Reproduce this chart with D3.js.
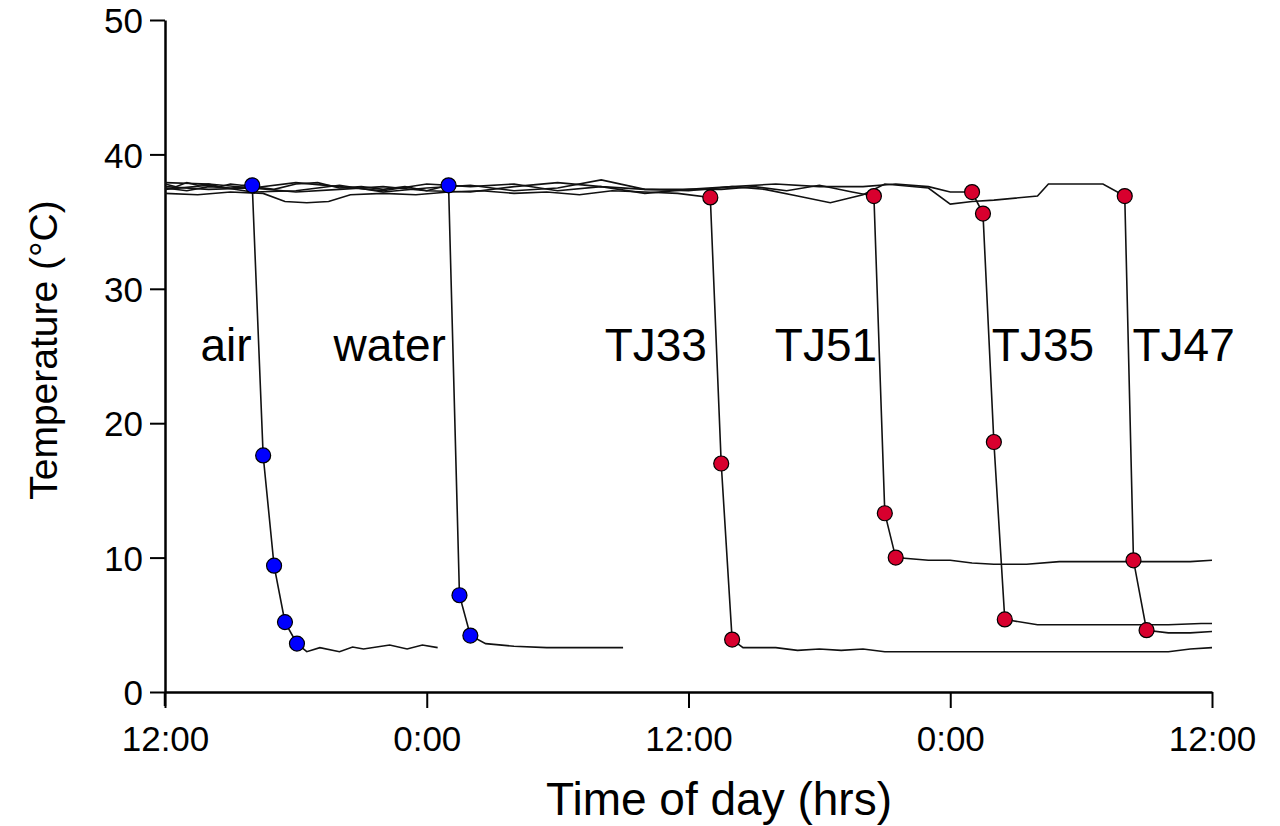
<!DOCTYPE html>
<html>
  <head>
    <meta charset="utf-8">
    <title>Temperature by time of day</title>
    <script src="https://cdn.jsdelivr.net/npm/d3@7"></script>
    <style>
      body { margin: 0; background: #fff; }
      svg text { font-family: "Liberation Sans", Arial, sans-serif; fill: #000; }
    </style>
  </head>
  <body>
    <svg id="chart"></svg>
    <script>
// hours after 12:00 on day 1, temperature in degrees C
const airHours = [0, 0.5, 1, 1.5, 2, 2.5, 3, 3.5, 4, 4.5, 5, 5.5, 6.05, 6.5, 7.1, 8.0, 8.6, 9.1, 10.3, 11.1, 11.8, 12.5];
const airTemps = [37.8, 37.6, 37.9, 37.7, 37.8, 37.6, 37.8, 37.7, 37.7, 17.6, 9.4, 5.2, 3.6, 3.0, 3.3, 3.0, 3.35, 3.2, 3.5, 3.2, 3.5, 3.3];
const airDots = [4, 4.5, 5, 5.5, 6.05];

const waterHours = [0, 1, 2, 3, 4, 5, 6, 7, 8, 9, 10, 11, 12, 12.5, 13, 13.5, 14, 14.7, 16, 17.5, 19, 21];
const waterTemps = [37.5, 37.3, 37.6, 37.5, 37.6, 37.4, 37.8, 37.9, 37.5, 37.6, 37.4, 37.6, 37.3, 37.5, 37.7, 7.2, 4.2, 3.6, 3.4, 3.3, 3.3, 3.3];
const waterDots = [13, 13.5, 14];

const tj33Hours = [0, 1.5, 3, 4.5, 5.5, 6.5, 7.5, 8.5, 10, 11.5, 13, 14.5, 16, 17.5, 19, 20.5, 22, 23.5, 25, 25.5, 26, 26.5, 28, 29, 30, 31, 32, 33, 35, 37, 40, 43, 46, 47, 48];
const tj33Temps = [37.1, 37.0, 37.2, 37.1, 36.5, 36.4, 36.5, 37.0, 37.1, 37.0, 37.2, 37.3, 37.1, 37.2, 37.0, 37.3, 37.2, 37.1, 36.8, 17.0, 3.9, 3.3, 3.3, 3.1, 3.2, 3.1, 3.2, 3.0, 3.0, 3.0, 3.0, 3.0, 3.0, 3.2, 3.3];
const tj33Dots = [25, 25.5, 26];

const tj51Hours = [0, 2, 4, 6, 8, 10, 12, 14, 16, 18, 20, 22, 24, 25.5, 27, 28.5, 30, 31.5, 32.5, 33, 33.5, 35, 36, 37, 38, 39.5, 41, 43, 45, 47, 48];
const tj51Temps = [37.6, 37.4, 37.5, 37.2, 37.4, 37.6, 37.3, 37.2, 37.6, 37.9, 37.6, 37.4, 37.4, 37.4, 37.6, 37.3, 37.7, 37.2, 36.9, 13.3, 10.0, 9.8, 9.8, 9.6, 9.5, 9.5, 9.7, 9.7, 9.7, 9.7, 9.8];
const tj51Dots = [32.5, 33, 33.5];

const tj35Hours = [0, 2, 4, 6, 8, 10, 12, 14, 16, 18, 20, 22, 24, 26, 28, 30, 32, 33.5, 35, 36, 37, 37.5, 38, 38.5, 40, 42, 44, 46, 47.5, 48];
const tj35Temps = [37.4, 37.7, 37.2, 37.3, 37.7, 37.2, 37.5, 37.7, 37.3, 37.5, 38.1, 37.4, 37.3, 37.6, 37.8, 37.6, 37.6, 37.8, 37.6, 37.2, 37.2, 35.6, 18.6, 5.4, 5.0, 5.0, 5.0, 5.0, 5.1, 5.1];
const tj35Dots = [37, 37.5, 38, 38.5];

const tj47Hours = [0, 2, 4, 6, 8, 10, 12, 14, 16, 18, 20, 22, 24, 26, 27.5, 29, 30.5, 32, 33, 35, 36, 37, 38, 40, 40.5, 42, 43, 44, 44.4, 45, 46, 47, 48];
const tj47Temps = [37.9, 37.8, 37.5, 37.9, 37.6, 37.3, 37.8, 37.6, 37.8, 37.3, 37.6, 37.1, 37.4, 37.6, 37.4, 36.9, 36.4, 37.0, 37.8, 37.5, 36.3, 36.5, 36.6, 36.9, 37.8, 37.8, 37.8, 36.9, 9.8, 4.6, 4.4, 4.4, 4.5];
const tj47Dots = [44, 44.4, 45];

const yTicks = [0, 10, 20, 30, 40, 50];
const xTicks = [0, 12, 24, 36, 48];
const xTickLabels = ['12:00', '0:00', '12:00', '0:00', '12:00'];

const series = [
  {name: 'air', group: 'control', hours: airHours, temps: airTemps, dots: airDots},
  {name: 'water', group: 'control', hours: waterHours, temps: waterTemps, dots: waterDots},
  {name: 'TJ33', group: 'sample', hours: tj33Hours, temps: tj33Temps, dots: tj33Dots},
  {name: 'TJ51', group: 'sample', hours: tj51Hours, temps: tj51Temps, dots: tj51Dots},
  {name: 'TJ35', group: 'sample', hours: tj35Hours, temps: tj35Temps, dots: tj35Dots},
  {name: 'TJ47', group: 'sample', hours: tj47Hours, temps: tj47Temps, dots: tj47Dots}
];

// where each name is written, in data units (hour of text centre, temp of baseline)
const labelSpots = {air: [2.8, 24.6], water: [10.3, 24.6], TJ33: [22.5, 24.6], TJ51: [30.3, 24.6], TJ35: [40.25, 24.6], TJ47: [46.7, 24.6]};
const dotColor = {control: '#0000ff', sample: '#d8002e'};

const width = 1280, height = 826;
const x = d3.scaleLinear().domain([0, 48]).range([165, 1212]);
const y = d3.scaleLinear().domain([0, 50]).range([692, 20]);

const svg = d3.select('#chart')
  .attr('width', width)
  .attr('height', height);

// axes
const xAxis = svg.append('g')
  .attr('transform', 'translate(0,' + y(0) + ')')
  .call(d3.axisBottom(x).tickValues(xTicks).tickFormat((d, i) => xTickLabels[i]).tickSize(16).tickSizeOuter(0).tickPadding(18));
const yAxis = svg.append('g')
  .attr('transform', 'translate(' + x(0) + ',0)')
  .call(d3.axisLeft(y).tickValues(yTicks).tickSize(15).tickSizeOuter(0).tickPadding(7));

[xAxis, yAxis].forEach(ax => {
  ax.select('.domain').attr('stroke', '#000').attr('stroke-width', 2.5);
  ax.selectAll('.tick line').attr('stroke', '#000').attr('stroke-width', 2);
  ax.selectAll('.tick text').attr('font-size', 35).attr('font-family', '"Liberation Sans", Arial, sans-serif').attr('fill', '#000');
});
xAxis.selectAll('.tick text').attr('dy', '0.71em');
yAxis.selectAll('.tick text').attr('dy', '0.36em');
// y axis runs a little below zero
yAxis.append('line')
  .attr('x1', 0).attr('x2', 0)
  .attr('y1', y(0)).attr('y2', y(0) + 14)
  .attr('stroke', '#000').attr('stroke-width', 2.5);

svg.append('text')
  .attr('x', 719)
  .attr('y', 815)
  .attr('text-anchor', 'middle')
  .attr('font-size', 46)
  .text('Time of day (hrs)');

svg.append('text')
  .attr('transform', 'translate(57,350) rotate(-90)')
  .attr('text-anchor', 'middle')
  .attr('font-size', 39)
  .text('Temperature (°C)');

// lines
const line = d3.line()
  .x(d => x(d[0]))
  .y(d => y(d[1]));

series.forEach(s => {
  const pts = s.hours.map((h, i) => [h, s.temps[i]]);
  svg.append('path')
    .datum(pts)
    .attr('d', line)
    .attr('fill', 'none')
    .attr('stroke', '#111')
    .attr('stroke-width', 1.6);
});

series.forEach(s => {
  const pts = s.hours.map((h, i) => [h, s.temps[i]]).filter(p => s.dots.includes(p[0]));
  svg.append('g')
    .selectAll('circle')
    .data(pts)
    .enter()
    .append('circle')
    .attr('cx', d => x(d[0]))
    .attr('cy', d => y(d[1]))
    .attr('r', 7.5)
    .attr('fill', dotColor[s.group])
    .attr('stroke', '#000')
    .attr('stroke-width', 1.2);
});

// series names
svg.append('g')
  .selectAll('text')
  .data(series)
  .enter()
  .append('text')
  .attr('x', d => x(labelSpots[d.name][0]))
  .attr('y', d => y(labelSpots[d.name][1]))
  .attr('text-anchor', 'middle')
  .attr('font-size', 46)
  .text(d => d.name);
    </script>
  </body>
</html>
